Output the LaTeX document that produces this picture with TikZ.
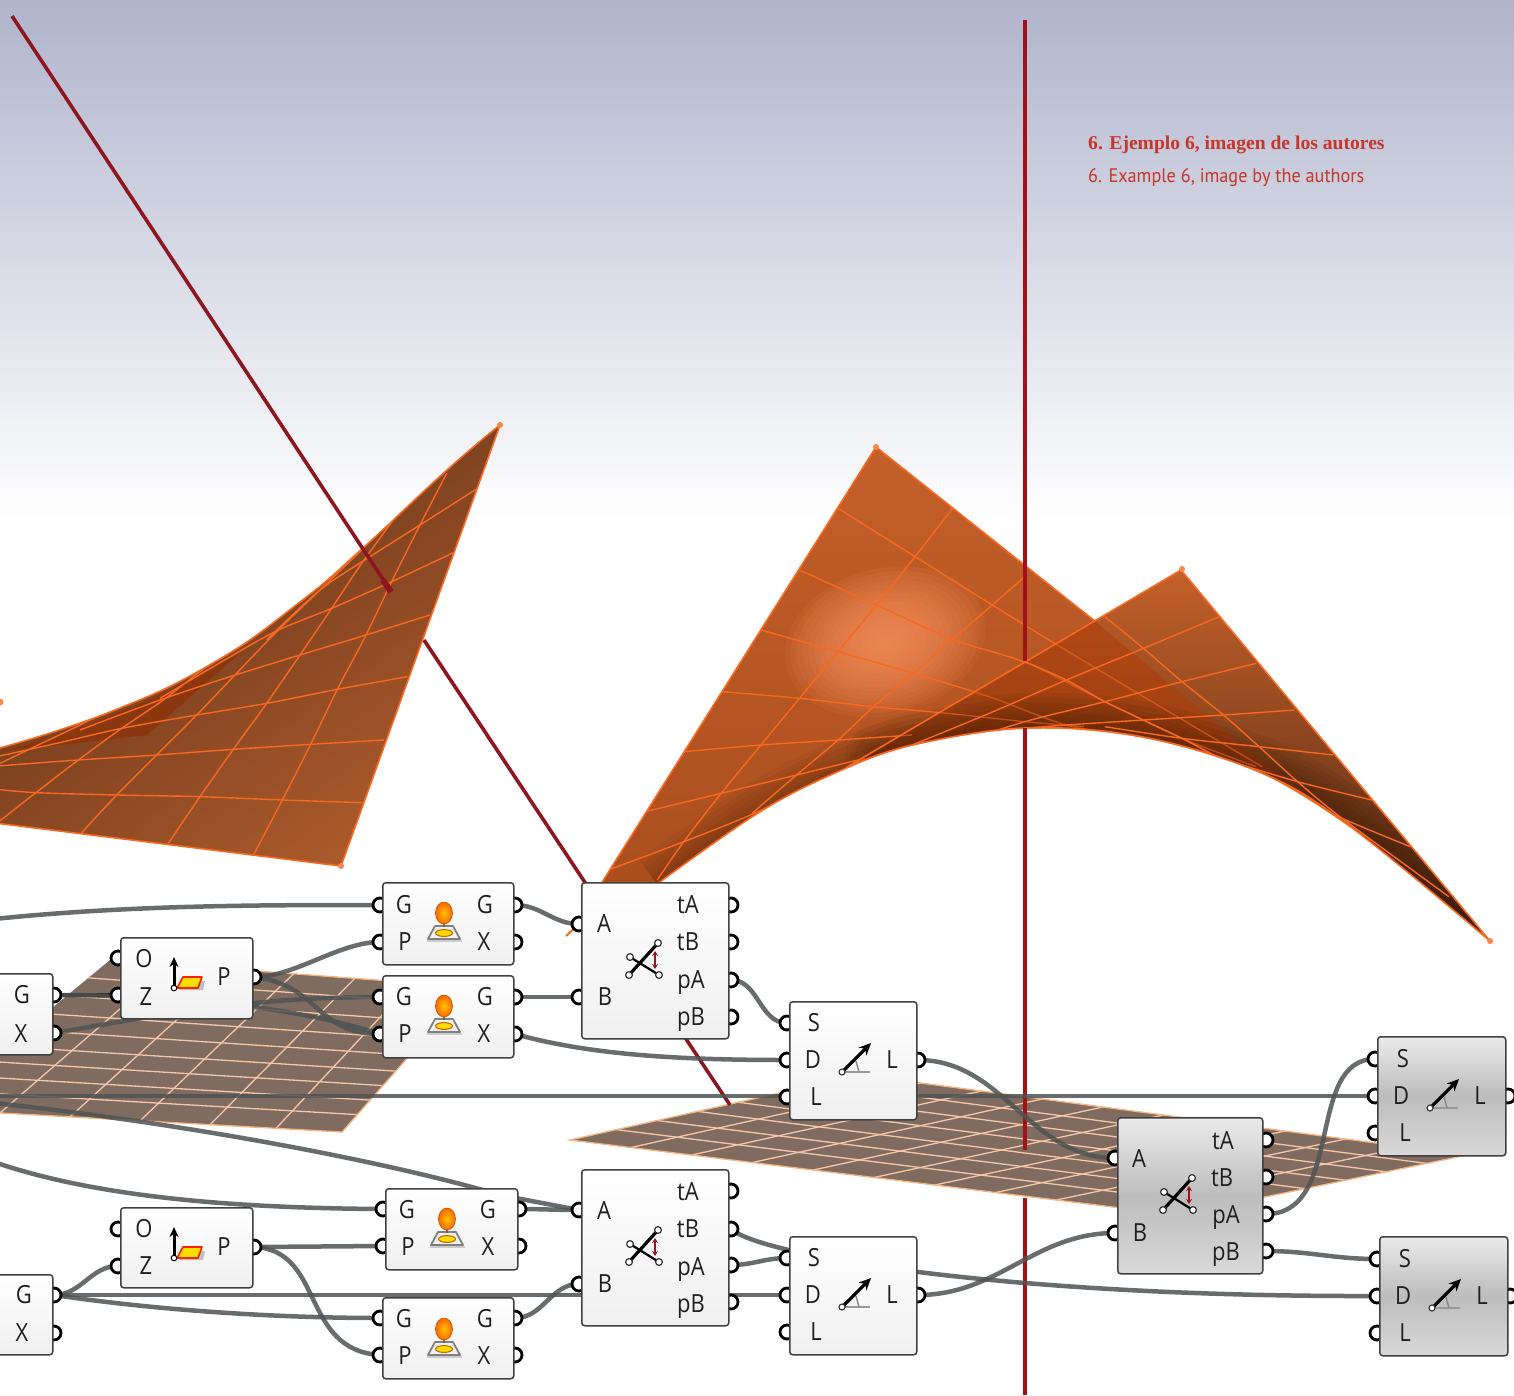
\documentclass[tikz,border=0pt]{standalone}
\usepackage{fontspec}
\setmainfont{Open Sans}
\newfontfamily\glabfont[FakeStretch=0.88]{Open Sans}
\newfontfamily\capserif{Liberation Serif}
\newfontfamily\capsans[FakeStretch=0.93]{PT Sans}
\usetikzlibrary{calc,arrows.meta}
\pgfdeclarelayer{scene}
\pgfdeclarelayer{wires}
\pgfsetlayers{scene,wires,main}
\definecolor{sheetA}{HTML}{C4602A}
\definecolor{sheetEdge}{HTML}{F8691F}
\definecolor{planeFill}{HTML}{7F6B60}
\definecolor{planeLine}{HTML}{F6C6A8}
\definecolor{rodDark}{HTML}{8E1620}
\definecolor{rodRed}{HTML}{9E1218}
\definecolor{capRed}{HTML}{C7352B}
\definecolor{wireC}{HTML}{505454}
\definecolor{skyTop}{RGB}{176,180,204}
\definecolor{lsDark}{RGB}{96,50,24}
\definecolor{lsLight}{RGB}{172,90,44}
\definecolor{lsFold}{RGB}{138,54,14}
\definecolor{backLow}{RGB}{170,78,30}
\definecolor{frontLow}{RGB}{72,38,18}
\definecolor{burnt}{RGB}{50,20,0}
\definecolor{glow}{RGB}{252,148,98}
\definecolor{lapC}{RGB}{176,60,8}
\tikzset{
 sheetgrid/.style={draw=sheetEdge,line width=1.4pt},
 sheetedge/.style={draw=sheetEdge,line width=1.6pt,line join=round},
 planegrid/.style={draw=planeLine,line width=1.3pt},
 wire/.style={draw=wireC,line width=4.5pt,opacity=.86},
 ghwhite/.style={draw=black!75,line width=1.5pt,rounded corners=3pt,top color=white,bottom color=black!6,inner sep=0pt,anchor=north west},
 ghgrey/.style={draw=black!75,line width=1.5pt,rounded corners=3pt,top color=black!8,bottom color=black!15,middle color=black!26,inner sep=0pt,anchor=north west},
 gport/.style={circle,draw=black,fill=white,line width=2.8pt,minimum size=14pt,inner sep=0pt},
 glabel/.style={font=\glabfont\fontsize{25}{25}\selectfont,text=black!88,inner sep=0pt},
 corner/.style={fill=sheetEdge!80!white},
}
\newcounter{lb}
\newcommand{\ghbox}[6][ghwhite]{\pgfmathsetmacro{\bw}{#5-#3}\pgfmathsetmacro{\bh}{#6-#4}%
 \node[#1,minimum width=\bw pt,minimum height=\bh pt] (#2) at (#3,#4) {};}
\newcommand{\gp}[3]{\node[gport] (#1) at (#2,#3) {};}
\newcommand{\lab}[3]{\stepcounter{lb}\node[glabel] (lb\thelb) at (#2,#3) {#1};}
\newcommand{\icoplane}[2]{\begin{scope}[shift={(#1,#2)}]
 \fill[fill=black!25] (5,13) -- (29,13) -- (31,4) -- (10,4) -- cycle;
 \draw[fill=yellow!80!orange,draw=red!75!orange,line width=1.6pt,line join=round] (3,11) -- (24,11) -- (28,0) -- (9,0) -- cycle;
 \draw[black,line width=3pt,-{Stealth[length=10pt,width=9pt]}] (0,11) -- (0,-20);
 \draw[black,fill=white,line width=1pt] (0,11) circle[radius=2.8];
 \end{scope}}
\newcommand{\icosurf}[2]{\begin{scope}[shift={(#1,#2)}]
 \draw[fill=black!5,draw=black!50,line width=1.8pt,line join=round] (-9,13) -- (9,13) -- (16,26) -- (-16,26) -- cycle;
 \fill[black!20] (-17,27) rectangle (18,29);
 \draw[fill=yellow!80!orange,draw=orange!80!black,line width=1.1pt] (0,20) circle[x radius=8.5,y radius=3.4];
 \draw[black!60,line width=1.4pt] (0,10) -- (0,14);
 \shade[inner color=orange!45!yellow,outer color=orange!80!red,draw=orange!70!black,line width=.6pt] (0,0) circle[x radius=8.5,y radius=11];
 \end{scope}}
\newcommand{\icoint}[2]{\begin{scope}[shift={(#1,#2)}]
 \draw[black,line width=2.2pt] (-15,-3) -- (14,15);
 \draw[black,line width=3.2pt] (-16,15) -- (13,-17);
 \foreach \cx/\cy in {-16/15,13/-17,-15/-3,14/15}{\draw[black!80,fill=white,line width=1.2pt] (\cx,\cy) circle[radius=3.4];}
 \draw[rodRed,line width=1.6pt,{Stealth[length=5pt,width=6pt]}-{Stealth[length=5pt,width=6pt]}] (10,-9) -- (10,9);
 \end{scope}}
\newcommand{\icoang}[2]{\begin{scope}[shift={(#1,#2)}]
 \draw[black!40,line width=2pt] (0,0) -- (28,0);
 \draw[black!45,line width=1.5pt] (17,0) -- (14,-11);
 \draw[black,line width=3.2pt,-{Stealth[length=12pt,width=11pt]}] (0,0) -- (29,-29);
 \draw[black!80,fill=white,line width=1.1pt] (0,0) circle[radius=3];
 \end{scope}}
\begin{document}
\begin{tikzpicture}[x=1pt,y=-1pt]
\useasboundingbox (0,0) rectangle (1514,1395);
\def\backpath{(601,884) -- (876,447) -- (1096,622) -- (1244,747) -- (1351,827) -- plot[smooth,tension=.6] coordinates {(1351,827) (1262,773) (1143,737) (1025,728) (912,745) (835,773) (758,813) (657,884)} -- cycle}
\def\frontpath{(847,767) -- (1181,570) -- (1490,941) -- plot[smooth,tension=.6] coordinates {(1490,941) (1351,827) (1262,773) (1143,737) (1025,728) (912,745) (847,767)} -- cycle}
\def\arcline{plot[smooth,tension=.6] coordinates {(657,884) (758,813) (835,773) (912,745) (1025,728) (1143,737) (1262,773) (1351,827) (1490,941)}}
\def\arcmid{plot[smooth,tension=.6] coordinates {(875,757) (912,745) (1025,728) (1143,737) (1262,773) (1351,827) (1490,941)}}
\def\lsurf{(-5,750) -- plot[smooth,tension=.8] coordinates {(0,748) (110,712) (213,663) (300,602) (363,548) (447,470) (500,425)} -- (341,866) -- (-5,823) -- cycle}
\def\backgrid{\begin{scope}[shift={(580,430)},x=.5931pt,y=-.33333pt]
  \foreach \pts in {
   {(435,235) (565,380) (695,525) (800,640) (950,800) (1150,1010)},
   {(370,420) (500,525) (628,628) (755,700) (885,815) (1015,925) (1140,1010)},
   {(305,600) (435,665) (562,730) (690,800) (820,885) (950,925)},
   {(240,785) (370,805) (495,830) (620,850) (750,875) (850,890)},
   {(175,965) (305,945) (435,930) (560,915)},
   {(110,1145) (238,1090) (365,1035) (480,985)},
   {(40,1325) (175,1235) (300,1145) (430,1030)},
   {(130,1350) (175,1235) (238,1090) (305,945) (370,805) (435,665) (500,525) (565,380) (628,235)},
   {(290,1150) (365,1035) (435,930) (495,830) (562,730) (628,628) (695,525) (750,440)}}
  {\draw[sheetgrid] plot[smooth,tension=.5] coordinates \pts;}
 \end{scope}}
\begin{pgfonlayer}{scene}
 \fill[white] (0,0) rectangle (1514,1395);
 \shade[top color=skyTop,bottom color=white] (0,0) rectangle (1514,520);
 % left surface
 \shade[top color=lsDark,bottom color=lsLight,shading angle=35] \lsurf;
 \begin{scope}
 \clip \lsurf;
 \fill[lsFold] (0,752) -- (147,735) -- (240,653) -- (150,700) -- (60,735) -- cycle;
 \begin{scope}[shift={(0,410)},x=.33333pt,y=-.33333pt]
  \foreach \pts in {
   {(762,1332) (848,1168) (932,1003) (1012,838) (1098,675) (1175,515) (1260,345) (1340,190)},
   {(505,1300) (600,1160) (700,1018) (800,880) (900,735) (995,595) (1085,460) (1180,330)},
   {(245,1268) (350,1155) (470,1035) (590,915) (700,800) (830,665) (960,540) (1085,420)},
   {(-10,1240) (105,1150) (235,1050) (365,955) (490,870) (620,770) (770,670)},
   {(-10,1065) (125,1000) (240,945) (400,860)},
   {(-10,1138) (110,1148) (350,1155) (600,1160) (848,1170) (1088,1178)},
   {(-10,1068) (235,1050) (470,1035) (700,1018) (932,1003) (1152,990)},
   {(-10,1040) (170,1000) (365,955) (590,915) (800,880) (1012,838) (1222,800)},
   {(240,960) (480,870) (690,800) (900,735) (1098,675) (1290,615)},
   {(480,865) (640,770) (825,665) (995,595) (1175,515) (1360,428)},
   {(800,690) (960,540) (1110,440) (1260,345) (1428,238)}}
  {\draw[sheetgrid] plot[smooth,tension=.5] coordinates \pts;}
 \end{scope}
 \end{scope}
 \draw[sheetedge] \lsurf;
 \fill[corner] (500,425) circle[radius=3];
 \fill[corner] (341,866) circle[radius=3];
 \fill[corner] (0,702) circle[radius=3.5];
 % right surface, back sheet
 \begin{scope}
  \clip \backpath;
  \shade[top color=sheetA,bottom color=backLow] (590,440) rectangle (1360,890);
  \foreach \r in {6,12,...,102}{\fill[glow,opacity=.095,rotate around={15:(885,642)}] (885,642) circle[x radius=\r,y radius=.72*\r];}
  \foreach \w in {10,20,...,60}{\draw[line width=\w pt,burnt,opacity=.055] \arcline;}
  \foreach \w in {10,20,...,60}{\draw[line width=\w pt,burnt,opacity=.06,line cap=round] \arcmid;}
  \backgrid
 \end{scope}
 \draw[sheetedge] \backpath;
 % right surface, front sheet
 \shade[top color=sheetA,bottom color=frontLow] \frontpath;
 \begin{scope}
  \clip \frontpath;
  \fill[lapC,opacity=.55] \backpath;
  \foreach \w in {10,20,...,70}{\draw[line width=\w pt,burnt,opacity=.08] \arcline;}
  \begin{scope}[opacity=.55]\backgrid\end{scope}
  \begin{scope}[shift={(580,430)},x=.5931pt,y=-.33333pt]
  \foreach \pts in {
   {(1078,560) (950,655) (820,750) (690,850) (560,945)},
   {(1140,700) (1015,755) (885,815) (750,875) (620,950)},
   {(1205,840) (1085,855) (950,870) (820,885) (750,895)},
   {(1270,975) (1145,950) (1015,925) (885,890)},
   {(1335,1110) (1210,1055) (1080,985)},
   {(1400,1250) (1285,1165) (1150,1050)},
   {(885,560) (950,655) (1015,755) (1085,855) (1145,950) (1210,1055) (1285,1165) (1465,1400)},
   {(750,695) (820,750) (885,815) (950,870) (1015,925) (1080,985) (1150,1040) (1285,1200)}}
  {\draw[sheetgrid] plot[smooth,tension=.5] coordinates \pts;}
  \end{scope}
 \end{scope}
 \draw[sheetedge] \frontpath;
 \fill[corner] (876,447) circle[radius=3];
 \fill[corner] (1182,569) circle[radius=3];
 \fill[corner] (1490,941) circle[radius=3];
 % planes
 \coordinate (pa) at (110,960); \coordinate (pb) at (470,987); \coordinate (pc) at (342,1132); \coordinate (pd) at (-70,1109);
 \fill[planeFill] (pa) -- (pb) -- (pc) -- (pd) -- cycle;
 \foreach \t in {.12,.24,.36,.47,.58,.68,.78,.88}{\draw[planegrid] ($(pa)!\t!(pd)$) -- ($(pb)!\t!(pc)$);}
 \foreach \t in {.17,.34,.51,.68,.84}{\draw[planegrid] ($(pa)!\t!(pb)$) -- ($(pd)!\t!(pc)$);}
 \draw[planegrid,draw=planeLine!75!orange] (pa) -- (pb) -- (pc) -- (pd);
 \coordinate (qa) at (860,1075); \coordinate (qb) at (1467,1155); \coordinate (qc) at (1178,1215); \coordinate (qd) at (570,1140);
 \fill[planeFill] (qa) -- (qb) -- (qc) -- (qd) -- cycle;
 \foreach \t in {.14,.28,.42,.56,.70,.84}{\draw[planegrid] ($(qa)!\t!(qd)$) -- ($(qb)!\t!(qc)$);}
 \foreach \t in {.1,.2,...,.95}{\draw[planegrid] ($(qa)!\t!(qb)$) -- ($(qd)!\t!(qc)$);}
 \draw[planegrid,draw=planeLine!75!orange] (qa) -- (qb) -- (qc) -- (qd) -- cycle;
 % rods
 \draw[rodDark,line width=3.6pt] (12,16) -- (390,590);
 \draw[rodDark,line width=6pt] (383,580) -- (391,592);
 \draw[rodDark,line width=3.6pt] (424,640) -- (590,890);
 \draw[rodDark,line width=3.6pt] (680,1030) -- (730,1105);
 \draw[rodRed,line width=3.4pt] (1025,20) -- (1025,661);
 \draw[rodRed,line width=3.4pt] (1025,728) -- (1025,1150);
 \draw[rodRed,line width=3.4pt] (1025,1198) -- (1025,1395);
 \draw[sheetEdge,line width=2pt] (566,936) -- (578,925);
\end{pgfonlayer}
% ports first, boxes over them
\gp{aG}{54}{995}\gp{aX}{54}{1033}
\gp{bO}{118}{958}\gp{bZ}{118}{995}\gp{bP}{254}{977}
\gp{cG}{380}{905}\gp{cP}{380}{942}\gp{cg}{515}{905}\gp{cX}{515}{942}
\gp{dG}{380}{997}\gp{dP}{380}{1034}\gp{dg}{515}{997}\gp{dX}{515}{1034}
\gp{eA}{579}{924}\gp{eB}{579}{997}\gp{etA}{731}{905}\gp{etB}{731}{942}\gp{epA}{731}{980}\gp{epB}{731}{1017}
\gp{fS}{787}{1023}\gp{fD}{787}{1060}\gp{fL}{787}{1097}\gp{fl}{918}{1060}
\gp{gG}{54}{1295}\gp{gX}{54}{1333}
\gp{hO}{118}{1229}\gp{hZ}{118}{1266}\gp{hP}{254}{1247}
\gp{iG}{383}{1209}\gp{iP}{383}{1246}\gp{ig}{519}{1209}\gp{iX}{519}{1246}
\gp{jG}{380}{1318}\gp{jP}{380}{1355}\gp{jg}{515}{1318}\gp{jX}{515}{1355}
\gp{kA}{579}{1210}\gp{kB}{579}{1284}\gp{ktA}{731}{1191}\gp{ktB}{731}{1229}\gp{kpA}{731}{1265}\gp{kpB}{731}{1302}
\gp{lS}{787}{1258}\gp{lD}{787}{1295}\gp{lL}{787}{1332}\gp{ll}{918}{1295}
\gp{mA}{1115}{1158}\gp{mB}{1115}{1233}\gp{mtA}{1266}{1140}\gp{mtB}{1266}{1177}\gp{mpA}{1266}{1214}\gp{mpB}{1266}{1251}
\gp{nS}{1375}{1059}\gp{nD}{1375}{1096}\gp{nL}{1375}{1133}\gp{nl}{1508}{1096}
\gp{oS}{1377}{1259}\gp{oD}{1377}{1296}\gp{oL}{1377}{1333}\gp{ol}{1510}{1296}
\coordinate (freeA) at (-6,919);
\coordinate (freeB) at (-6,1096);
\coordinate (freeC) at (-6,1103);
\coordinate (freeD) at (-6,1162);
% boxes
\ghbox{boxa}{-60}{973}{52}{1054}
\ghbox{boxb}{120}{937}{252}{1018}
\ghbox{boxc}{382}{882}{513}{964}
\ghbox{boxd}{382}{975}{513}{1057}
\ghbox{boxe}{581}{882}{728}{1038}
\ghbox{boxf}{789}{1001}{916}{1119}
\ghbox{boxg}{-60}{1274}{52}{1354}
\ghbox{boxh}{120}{1207}{252}{1287}
\ghbox{boxi}{385}{1188}{517}{1269}
\ghbox{boxj}{382}{1297}{513}{1378}
\ghbox{boxk}{581}{1169}{728}{1325}
\ghbox{boxl}{789}{1236}{916}{1354}
\ghbox[ghgrey]{boxm}{1117}{1117}{1262}{1273}
\ghbox[ghgrey]{boxn}{1377}{1036}{1505}{1155}
\ghbox[ghgrey]{boxo}{1379}{1236}{1507}{1355}
% wires
\begin{pgfonlayer}{wires}
 \draw[wire] (freeA) .. controls (130,905) and (260,905) .. (cG.center);
 \draw[wire] (bP.center) to[out=0,in=180,looseness=.8] (cP.center);
 \draw[wire] (bP.center) .. controls (320,985) and (315,1034) .. (dP.center);
 \draw[wire,line width=4.5pt,draw=black] (aG.center) -- (bZ.center);
 \draw[wire] (aX.center) .. controls (160,1015) and (250,997) .. (dG.center);
 \draw[wire] (aG.center) .. controls (170,995) and (290,1005) .. (dP.center);
 \draw[wire] (cg.center) to[out=0,in=180] (eA.center);
 \draw[wire] (dg.center) -- (eB.center);
 \draw[wire] (dX.center) .. controls (590,1055) and (680,1060) .. (fD.center);
 \draw[wire] (epA.center) to[out=0,in=180] (fS.center);
 \draw[wire] (freeB) -- (nD.center);
 \draw[wire] (freeC) .. controls (200,1125) and (400,1165) .. (500,1195) -- (kA.center);
 \draw[wire] (freeD) .. controls (90,1195) and (220,1208) .. (iG.center);
 \draw[wire] (ig.center) to[out=0,in=180] (kA.center);
 \draw[wire] (hP.center) -- (iP.center);
 \draw[wire] (hP.center) .. controls (325,1250) and (300,1350) .. (jP.center);
 \draw[wire] (gG.center) to[out=0,in=180] (hZ.center);
 \draw[wire] (gG.center) -- (lD.center);
 \draw[wire] (gG.center) .. controls (170,1312) and (290,1318) .. (jG.center);
 \draw[wire] (jg.center) to[out=0,in=180] (kB.center);
 \draw[wire] (ktB.center) .. controls (760,1255) and (1000,1297) .. (oD.center);
 \draw[wire] (kpA.center) to[out=0,in=180] (lS.center);
 \draw[wire] (ll.center) to[out=0,in=180] (mB.center);
 \draw[wire] (fl.center) to[out=0,in=180] (mA.center);
 \draw[wire] (mpA.center) .. controls (1345,1214) and (1305,1059) .. (nS.center);
 \draw[wire] (mpB.center) to[out=0,in=180] (oS.center);
\end{pgfonlayer}
% texts
\lab{G}{22}{995}\lab{X}{21}{1034}
\lab{O}{144}{959}\lab{Z}{146}{997}\lab{P}{224}{977}
\lab{G}{404}{905}\lab{P}{405}{942}\lab{G}{485}{905}\lab{X}{484}{942}
\lab{G}{404}{997}\lab{P}{405}{1034}\lab{G}{485}{997}\lab{X}{484}{1034}
\lab{A}{604}{924}\lab{B}{605}{997}\lab{tA}{688}{905}\lab{tB}{688}{942}\lab{pA}{691}{983}\lab{pB}{691}{1020}
\lab{S}{814}{1023}\lab{D}{813}{1060}\lab{L}{816}{1097}\lab{L}{892}{1060}
\lab{G}{24}{1295}\lab{X}{22}{1333}
\lab{O}{144}{1229}\lab{Z}{146}{1266}\lab{P}{224}{1247}
\lab{G}{407}{1210}\lab{P}{408}{1247}\lab{G}{488}{1210}\lab{X}{488}{1247}
\lab{G}{404}{1319}\lab{P}{405}{1356}\lab{G}{485}{1319}\lab{X}{484}{1356}
\lab{A}{604}{1211}\lab{B}{605}{1284}\lab{tA}{688}{1192}\lab{tB}{688}{1229}\lab{pA}{691}{1270}\lab{pB}{691}{1307}
\lab{S}{814}{1258}\lab{D}{813}{1295}\lab{L}{816}{1332}\lab{L}{892}{1295}
\lab{A}{1139}{1159}\lab{B}{1140}{1233}\lab{tA}{1223}{1141}\lab{tB}{1222}{1178}\lab{pA}{1226}{1218}\lab{pB}{1226}{1255}
\lab{S}{1403}{1059}\lab{D}{1401}{1096}\lab{L}{1405}{1133}\lab{L}{1480}{1096}
\lab{S}{1405}{1259}\lab{D}{1403}{1296}\lab{L}{1405}{1333}\lab{L}{1482}{1296}
% icons
\icoplane{174}{977}\icoplane{174}{1247}
\icosurf{444}{913}\icosurf{444}{1006}\icosurf{447}{1219}\icosurf{444}{1329}
\icoint{645}{960}\icoint{645}{1247}\icoint{1179}{1195}
\icoang{842}{1072}\icoang{842}{1307}\icoang{1430}{1108}\icoang{1432}{1308}
% captions
\node[inner sep=0pt,anchor=base west,text=capRed,font=\capserif\bfseries\fontsize{19.6}{22}\selectfont] (capes) at (1088,149) {6. Ejemplo 6, imagen de los autores};
\node[inner sep=0pt,anchor=base west,text=capRed,font=\capsans\fontsize{19.6}{22}\selectfont] (capen) at (1088,182) {6. Example 6, image by the authors};
\end{tikzpicture}
\end{document}
